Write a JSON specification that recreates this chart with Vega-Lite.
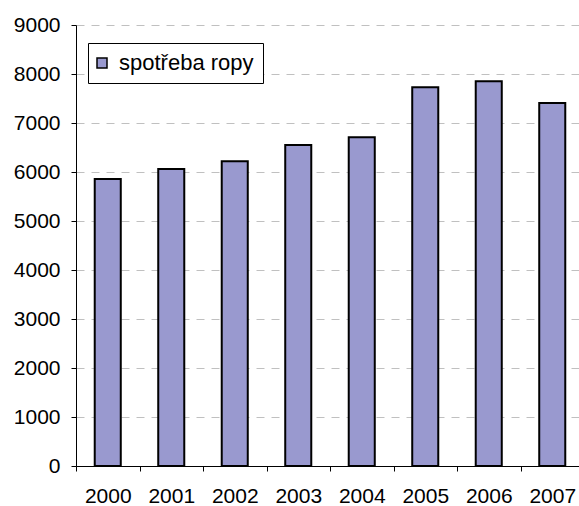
{
  "$schema": "https://vega.github.io/schema/vega-lite/v6.json",
  "autosize": "none",
  "width": 508,
  "height": 441,
  "padding": {"left": 76, "top": 25, "right": 0, "bottom": 40},
  "background": "white",
  "data": {
    "values": [
      {"rok": "2000", "spotreba": 5855},
      {"rok": "2001", "spotreba": 6060},
      {"rok": "2002", "spotreba": 6220},
      {"rok": "2003", "spotreba": 6550},
      {"rok": "2004", "spotreba": 6710},
      {"rok": "2005", "spotreba": 7730},
      {"rok": "2006", "spotreba": 7850},
      {"rok": "2007", "spotreba": 7410}
    ]
  },
  "mark": {"type": "bar", "stroke": "black", "strokeWidth": 2, "width": {"band": 0.41}},
  "encoding": {
    "x": {
      "field": "rok",
      "type": "ordinal",
      "scale": {"paddingInner": 0, "paddingOuter": 0},
      "axis": {
        "title": null,
        "labelAngle": 0,
        "tickBand": "extent",
        "grid": false,
        "domainColor": "black",
        "tickColor": "black",
        "tickSize": 5,
        "labelPadding": 14,
        "labelFontSize": 21,
        "labelFont": "Liberation Sans",
        "labelColor": "black"
      }
    },
    "y": {
      "field": "spotreba",
      "type": "quantitative",
      "scale": {"domain": [0, 9000]},
      "axis": {
        "title": null,
        "format": "d",
        "values": [0, 1000, 2000, 3000, 4000, 5000, 6000, 7000, 8000, 9000],
        "grid": true,
        "gridColor": "#c0c0c0",
        "gridDash": [8, 7],
        "gridWidth": 1,
        "domainColor": "black",
        "tickColor": "black",
        "tickSize": 5,
        "labelPadding": 11,
        "labelFontSize": 21,
        "labelFont": "Liberation Sans",
        "labelColor": "black"
      }
    },
    "fill": {
      "datum": "spotřeba ropy",
      "type": "nominal",
      "scale": {"range": ["#9999cf"]},
      "legend": {
        "title": null,
        "orient": "none",
        "legendX": 12,
        "legendY": 18,
        "strokeColor": "black",
        "fillColor": "white",
        "padding": 9,
        "symbolType": "square",
        "symbolSize": 100,
        "symbolOffset": -6,
        "symbolStrokeColor": "black",
        "symbolStrokeWidth": 1.5,
        "labelFontSize": 22,
        "labelFont": "Liberation Sans",
        "labelColor": "black",
        "labelOffset": 6
      }
    }
  },
  "config": {
    "view": {"stroke": null},
    "axis": {"domainWidth": 1, "tickWidth": 1}
  }
}
